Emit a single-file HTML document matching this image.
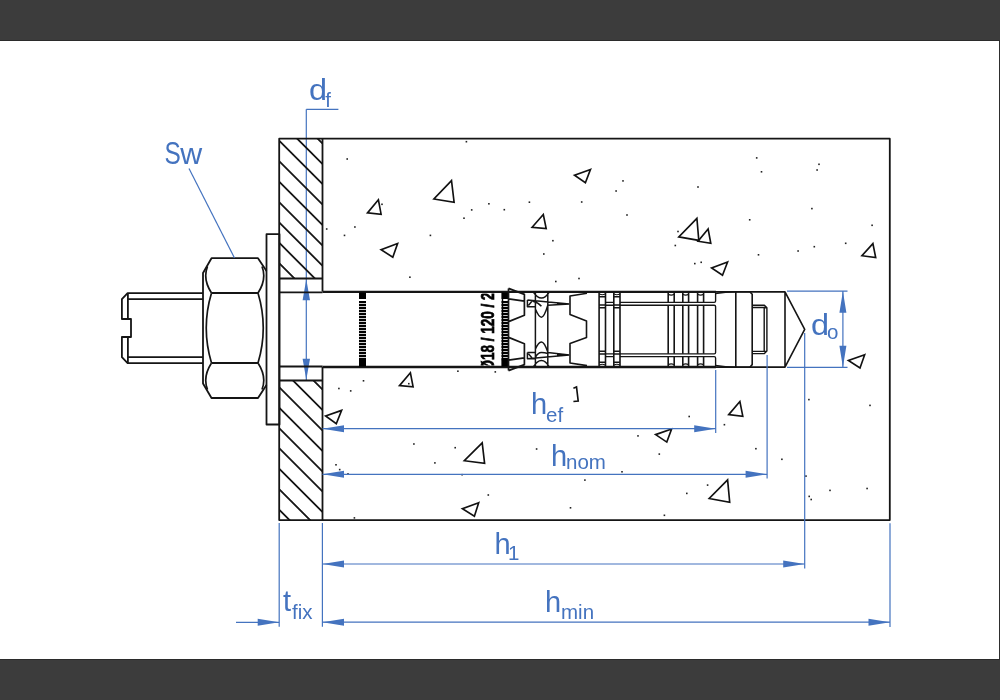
<!DOCTYPE html>
<html><head><meta charset="utf-8"><style>
html,body{margin:0;padding:0;width:1000px;height:700px;overflow:hidden;background:#fff}
svg{display:block}
text{font-family:"Liberation Sans",sans-serif}
</style></head><body>
<svg width="1000" height="700" viewBox="0 0 1000 700">
<defs>
<clipPath id="cu"><rect x="279.5" y="138.5" width="43" height="140"/></clipPath>
<clipPath id="cl"><rect x="279.5" y="380.5" width="43" height="139.5"/></clipPath>
<clipPath id="cb"><rect x="470" y="293.5" width="30" height="72"/></clipPath>
</defs>
<rect x="0" y="0" width="1000" height="700" fill="#fff"/>

<rect x="0" y="0" width="1000" height="41" fill="#3c3c3c"/>
<rect x="0" y="40" width="1000" height="1" fill="#2b2b2b"/>
<rect x="0" y="659" width="1000" height="41" fill="#3c3c3c"/>
<rect x="0" y="659" width="1000" height="1" fill="#2b2b2b"/>
<rect x="999" y="41" width="1" height="618" fill="#2e2e2e"/>
<path d="M306.3,109.3 V380" fill="none" stroke="#4473bf" stroke-width="1.2"/>
<path d="M306.3,279.3 L302.6,300.3 L310,300.3 Z M306.3,379.8 L302.6,358.8 L310,358.8 Z" fill="#4473bf"/>
<g fill="none" stroke="#151515" stroke-width="1.8" stroke-linejoin="round" stroke-linecap="butt">
<path d="M279.2,138.7 H889.8 V520.1 H279.2 Z"/>
<path d="M322.5,138.7 V291.5 M322.5,367 V520.1"/>
<path d="M279.2,278.5 H322.5 M279.2,380.5 H322.5"/>
<path clip-path="url(#cu)" d="M269.5,90.5 L332.5,153.5 M269.5,111 L332.5,174 M269.5,131 L332.5,194 M269.5,151.5 L332.5,214.5 M269.5,172 L332.5,235 M269.5,192.5 L332.5,255.5 M269.5,212.7 L332.5,275.7 M269.5,233.1 L332.5,296.1 M269.5,253.5 L332.5,316.5"/>
<path clip-path="url(#cl)" d="M269.5,336.5 L332.5,399.5 M269.5,357 L332.5,420 M269.5,377.5 L332.5,440.5 M269.5,398 L332.5,461 M269.5,418.5 L332.5,481.5 M269.5,438.5 L332.5,501.5 M269.5,459 L332.5,522 M269.5,479.5 L332.5,542.5 M269.5,500 L332.5,563"/>
<rect x="266.5" y="234.2" width="13" height="190.3"/>
<path d="M266.5,271 L258,258.2 H211.5 L203,273 V383.5 L211.5,398 H258 L266.5,385"/>
<path d="M211.5,293 H258 M211.5,363 H258"/>
<path stroke-width="1.7" d="M207.5,266.5 Q202.5,279 211.5,293 M262,266.5 Q267,279 258,293 M211.5,293 Q201,328 211.5,363 M258,293 Q268.5,328 258,363 M211.5,363 Q202.5,377 207.5,389.5 M258,363 Q267,377 262,389.5"/>
<path d="M203,293.1 H127.6 L121.9,299.1 V319 H131 V337 H121.9 V357.2 L127.6,363.1 H203"/>
<path d="M127.9,299.1 H203 M127.9,357.2 H203 M127.9,293.5 V319 M127.9,337 V363"/>
<path stroke-width="1.8" d="M279.2,292.4 H322.5 M279.2,366.5 H322.5"/>
<path stroke-width="1.7" d="M716,291.8 H785 M716,367.1 H785"/>
<path stroke-width="2.3" d="M322.5,291.9 H716 M322.5,367 H716"/>
<path stroke-width="1.6" d="M785,291.8 L804.7,329.4 L785,367.1 Z"/>
<path stroke-width="1.6" d="M735.8,291.7 V367.2 M735.8,291.7 H749.8 L752.2,294.3 V364.6 L749.8,367.2 H735.8"/>
<path stroke-width="1.4" d="M752.2,305.3 H764.4 L766.9,307.8 V351.1 L764.4,353.6 H752.2 M752.2,307.5 H764.2 V351.4 H752.2 M764.2,307.5 L766.9,307.8 M764.2,351.4 L766.9,351.1"/>
</g>
<rect x="359" y="292.5" width="7" height="6.5" fill="#000"/><rect x="359" y="359.5" width="7" height="7" fill="#000"/><rect x="359" y="301" width="7" height="2.2" fill="#000"/><rect x="359" y="304" width="7" height="2.2" fill="#000"/><rect x="359" y="307" width="7" height="2.2" fill="#000"/><rect x="359" y="310" width="7" height="2.2" fill="#000"/><rect x="359" y="313" width="7" height="2.2" fill="#000"/><rect x="359" y="316" width="7" height="2.2" fill="#000"/><rect x="359" y="319" width="7" height="2.2" fill="#000"/><rect x="359" y="322" width="7" height="2.2" fill="#000"/><rect x="359" y="325" width="7" height="2.2" fill="#000"/><rect x="359" y="328" width="7" height="2.2" fill="#000"/><rect x="359" y="331" width="7" height="2.2" fill="#000"/><rect x="359" y="334" width="7" height="2.2" fill="#000"/><rect x="359" y="337" width="7" height="2.2" fill="#000"/><rect x="359" y="340" width="7" height="2.2" fill="#000"/><rect x="359" y="343" width="7" height="2.2" fill="#000"/><rect x="359" y="346" width="7" height="2.2" fill="#000"/><rect x="359" y="349" width="7" height="2.2" fill="#000"/><rect x="359" y="352" width="7" height="2.2" fill="#000"/><rect x="359" y="355" width="7" height="2.2" fill="#000"/><rect x="359" y="358" width="7" height="2.2" fill="#000"/>
<rect x="501.5" y="292.5" width="6.5" height="6.5" fill="#000"/><rect x="501.5" y="359.5" width="6.5" height="7" fill="#000"/><rect x="501.5" y="301" width="6.5" height="2.2" fill="#000"/><rect x="501.5" y="304" width="6.5" height="2.2" fill="#000"/><rect x="501.5" y="307" width="6.5" height="2.2" fill="#000"/><rect x="501.5" y="310" width="6.5" height="2.2" fill="#000"/><rect x="501.5" y="313" width="6.5" height="2.2" fill="#000"/><rect x="501.5" y="316" width="6.5" height="2.2" fill="#000"/><rect x="501.5" y="319" width="6.5" height="2.2" fill="#000"/><rect x="501.5" y="322" width="6.5" height="2.2" fill="#000"/><rect x="501.5" y="325" width="6.5" height="2.2" fill="#000"/><rect x="501.5" y="328" width="6.5" height="2.2" fill="#000"/><rect x="501.5" y="331" width="6.5" height="2.2" fill="#000"/><rect x="501.5" y="334" width="6.5" height="2.2" fill="#000"/><rect x="501.5" y="337" width="6.5" height="2.2" fill="#000"/><rect x="501.5" y="340" width="6.5" height="2.2" fill="#000"/><rect x="501.5" y="343" width="6.5" height="2.2" fill="#000"/><rect x="501.5" y="346" width="6.5" height="2.2" fill="#000"/><rect x="501.5" y="349" width="6.5" height="2.2" fill="#000"/><rect x="501.5" y="352" width="6.5" height="2.2" fill="#000"/><rect x="501.5" y="355" width="6.5" height="2.2" fill="#000"/><rect x="501.5" y="358" width="6.5" height="2.2" fill="#000"/>
<rect x="501.8" y="292.5" width="1.4" height="74" fill="#000"/>
<g clip-path="url(#cb)" style="filter:grayscale(1)"><text transform="translate(494.3,370.5) rotate(-90) scale(0.75,1)" font-size="18" font-weight="bold" fill="#000" stroke="#000" stroke-width="0.7">Ø18 / 120 / 2</text></g>
<g fill="none" stroke="#151515" stroke-width="1.7" stroke-linejoin="round">
<path d="M508.5,288.4 V370.6 M508.5,288.4 L524.4,294.4 V315.2 L508.6,321.6 M508.6,337.4 L524.4,343.8 V364.6 L508.5,370.6 M508.6,298.8 L524.4,301.2 M508.6,360.2 L524.4,357.8"/>
<path stroke-width="1.5" d="M535.4,292.5 V366.5 M547.8,292.5 V366.5 M533.5,292.3 C536,296 538.5,298 541.4,298 C544.3,298 546.8,296 549,292.3 M535.4,309 C537.5,314 539.3,317.2 541.4,317.2 C543.5,317.2 545.5,313 547.8,305.3 M533,301.2 C536.5,302 539.5,304 541.4,306.3 M527.4,300 V306.7 H535.4 M527.4,300 L569.3,303.9 M528.4,305.5 L532.5,300.5 M547.8,305.3 L569.3,303.9 M533.5,366.7 C536,362.5 538.5,360.5 541.4,360.5 C544.3,360.5 546.8,362.5 549,366.7 M535.4,349.3 C537.5,344 539.3,341.9 541.4,341.9 C543.5,341.9 545.5,345 547.8,352.1 M535.4,357.5 C537,354 539,352.4 541.4,352.4 C543.5,352.4 546,352.8 547.8,353.5 M527.4,352.4 V358.7 H535.4 M527.4,352.4 H535.4 M527.4,358.7 L569.3,354.9 M528.4,353.8 L531.9,357.7 M547.8,352.5 L569.3,354.9"/>
</g>
<path d="M557,302.8 L569.5,303.9 L557,304.6 Z M557,356.2 L569.5,354.9 L557,353.6 Z" fill="#111"/>
<g fill="none" stroke="#151515" stroke-width="1.6" stroke-linejoin="round">
<path d="M587,293.3 L570,296 V314.5 L586.5,321 V337.5 L570,343.5 V363 L587,365.6"/>
<path d="M599.1,293 V366 M605.5,293 V366 M599.1,296.8 H605.5 M599.1,305 H605.5 M599.1,307.8 H605.5 M599.1,351.2 H605.5 M599.1,354 H605.5 M599.1,362.2 H605.5"/>
<path d="M613.8,293 V366 M620,293 V366 M613.8,296.8 H620 M613.8,305 H620 M613.8,307.8 H620 M613.8,351.2 H620 M613.8,354 H620 M613.8,362.2 H620"/>
<path stroke-width="1.2" d="M599.4,294 Q602.3,295.5 605.3,294 M613.8,294 Q616.9,295.5 620,294 M599.4,365 Q602.3,363.5 605.3,365 M613.8,365 Q616.9,363.5 620,365"/>
<path d="M668.2,293 V302.4 M674.2,293 V302.4 M668.2,305.2 V353.8 M674.2,305.2 V353.8 M668.2,356.6 V366 M674.2,356.6 V366"/>
<path stroke-width="1.2" d="M668.2,294.3 Q671.2,296 674.2,294.3 M668.2,364.7 Q671.2,363 674.2,364.7"/>
<path d="M682.8,293 V302.4 M688.6,293 V302.4 M682.8,305.2 V353.8 M688.6,305.2 V353.8 M682.8,356.6 V366 M688.6,356.6 V366"/>
<path stroke-width="1.2" d="M682.8,294.3 Q685.7,296 688.6,294.3 M682.8,364.7 Q685.7,363 688.6,364.7"/>
<path d="M697.6,293 V302.4 M703.6,293 V302.4 M697.6,305.2 V353.8 M703.6,305.2 V353.8 M697.6,356.6 V366 M703.6,356.6 V366"/>
<path stroke-width="1.2" d="M697.6,294.3 Q700.6,296 703.6,294.3 M697.6,364.7 Q700.6,363 703.6,364.7"/>
<path stroke-width="1.35" d="M605.3,302.4 H613.8 M620,302.4 H714.2 Q715.6,302.4 715.6,301 V293 M605.3,305.2 H613.8 M620,305.2 H714.2 Q715.6,305.2 715.6,306.6 V352.4 Q715.6,353.8 714.2,353.8 H620 M613.8,353.8 H605.3 M605.3,356.6 H613.8 M620,356.6 H714.2 Q715.6,356.6 715.6,358 V366"/>
<path d="M715.6,293.5 Q725,292 736.3,291.8 M715.6,365.5 Q725,367 736.3,367.2"/>
</g>
<g fill="none" stroke="#111" stroke-width="1.65" stroke-linejoin="miter" stroke-miterlimit="3">
<path d="M451.5,180.6 L433.9,199 L454.1,202.2 Z"/>
<path d="M378.4,199.8 L367.5,212.9 L381.1,214.2 Z"/>
<path d="M397.6,243.6 L381.1,249.7 L392.8,257.2 Z"/>
<path d="M590.5,169.4 L574.5,175.3 L585.4,182.7 Z"/>
<path d="M543.3,214.5 L532.1,227.3 L546.2,228.6 Z"/>
<path d="M696.9,218.3 L678.8,236.9 L698.8,240.4 Z"/>
<path d="M708.1,228.9 L698,241.2 L710.8,243.3 Z"/>
<path d="M727.6,262 L711.6,267.9 L722.5,275.3 Z"/>
<path d="M872.9,243.6 L861.9,255.7 L875.7,257.6 Z"/>
<path d="M410.4,372.8 L399.5,385.6 L413.1,386.9 Z"/>
<path d="M341.6,410.4 L325.6,416 L336.3,423.7 Z"/>
<path d="M482.2,442.9 L464.3,460.7 L484.6,463.4 Z"/>
<path d="M478.7,502.7 L462.4,508.8 L474.4,516.3 Z"/>
<path d="M671.6,429 L655.6,434.6 L666.8,442.1 Z"/>
<path d="M739.9,401.5 L728.7,414.6 L742.8,416.2 Z"/>
<path d="M727.6,479.8 L709.2,498.5 L729.7,502.2 Z"/>
<path d="M864.7,354.7 L848.4,360.4 L860,368 Z"/>
<path d="M573.4,388.2 L576.5,387 L578.2,401 L573.4,401.5"/>
</g>
<g fill="#222">
<rect x="346.4" y="158.2" width="1.6" height="1.6"/>
<rect x="465.6" y="140.9" width="1.6" height="1.6"/>
<rect x="381.2" y="203.5" width="1.6" height="1.6"/>
<rect x="470.9" y="209.1" width="1.6" height="1.6"/>
<rect x="463.2" y="217.4" width="1.6" height="1.6"/>
<rect x="354.1" y="226.2" width="1.6" height="1.6"/>
<rect x="325.9" y="228.2" width="1.6" height="1.6"/>
<rect x="343.7" y="234.6" width="1.6" height="1.6"/>
<rect x="429.6" y="234.6" width="1.6" height="1.6"/>
<rect x="409.1" y="276.4" width="1.6" height="1.6"/>
<rect x="488.1" y="203" width="1.6" height="1.6"/>
<rect x="503.5" y="208.9" width="1.6" height="1.6"/>
<rect x="528.6" y="201.4" width="1.6" height="1.6"/>
<rect x="580.9" y="201.2" width="1.6" height="1.6"/>
<rect x="622.2" y="180.1" width="1.6" height="1.6"/>
<rect x="615.3" y="190.2" width="1.6" height="1.6"/>
<rect x="626.2" y="214.2" width="1.6" height="1.6"/>
<rect x="552.1" y="239.9" width="1.6" height="1.6"/>
<rect x="543" y="253.2" width="1.6" height="1.6"/>
<rect x="555" y="280.7" width="1.6" height="1.6"/>
<rect x="578.2" y="277.7" width="1.6" height="1.6"/>
<rect x="755.9" y="157.1" width="1.6" height="1.6"/>
<rect x="760.7" y="171" width="1.6" height="1.6"/>
<rect x="697.2" y="186.2" width="1.6" height="1.6"/>
<rect x="748.9" y="219" width="1.6" height="1.6"/>
<rect x="677.2" y="230.7" width="1.6" height="1.6"/>
<rect x="674.5" y="244.7" width="1.6" height="1.6"/>
<rect x="757.7" y="254" width="1.6" height="1.6"/>
<rect x="694" y="262.8" width="1.6" height="1.6"/>
<rect x="700.4" y="261.5" width="1.6" height="1.6"/>
<rect x="818.2" y="163.5" width="1.6" height="1.6"/>
<rect x="816.3" y="169.2" width="1.6" height="1.6"/>
<rect x="811.1" y="207.8" width="1.6" height="1.6"/>
<rect x="871.3" y="224.5" width="1.6" height="1.6"/>
<rect x="797.3" y="250.2" width="1.6" height="1.6"/>
<rect x="813.5" y="245.9" width="1.6" height="1.6"/>
<rect x="844.9" y="242.5" width="1.6" height="1.6"/>
<rect x="362.7" y="380" width="1.6" height="1.6"/>
<rect x="338.1" y="387.7" width="1.6" height="1.6"/>
<rect x="349.9" y="390.1" width="1.6" height="1.6"/>
<rect x="408" y="382.9" width="1.6" height="1.6"/>
<rect x="457.1" y="370.4" width="1.6" height="1.6"/>
<rect x="413.1" y="443.2" width="1.6" height="1.6"/>
<rect x="454.4" y="446.9" width="1.6" height="1.6"/>
<rect x="335.2" y="464" width="1.6" height="1.6"/>
<rect x="338.9" y="468.8" width="1.6" height="1.6"/>
<rect x="347.2" y="473.1" width="1.6" height="1.6"/>
<rect x="434.1" y="462.1" width="1.6" height="1.6"/>
<rect x="461.3" y="473.9" width="1.6" height="1.6"/>
<rect x="353.6" y="517.1" width="1.6" height="1.6"/>
<rect x="494.5" y="371.1" width="1.6" height="1.6"/>
<rect x="535.8" y="448.2" width="1.6" height="1.6"/>
<rect x="487.5" y="494.2" width="1.6" height="1.6"/>
<rect x="584.1" y="479.3" width="1.6" height="1.6"/>
<rect x="569.7" y="507" width="1.6" height="1.6"/>
<rect x="688.4" y="415.7" width="1.6" height="1.6"/>
<rect x="637.2" y="435.1" width="1.6" height="1.6"/>
<rect x="658.5" y="453.3" width="1.6" height="1.6"/>
<rect x="723.6" y="423.9" width="1.6" height="1.6"/>
<rect x="755.1" y="447.9" width="1.6" height="1.6"/>
<rect x="621.2" y="471" width="1.6" height="1.6"/>
<rect x="706.8" y="484.3" width="1.6" height="1.6"/>
<rect x="686" y="492.6" width="1.6" height="1.6"/>
<rect x="663.6" y="514.5" width="1.6" height="1.6"/>
<rect x="808.1" y="398.8" width="1.6" height="1.6"/>
<rect x="869.2" y="404.6" width="1.6" height="1.6"/>
<rect x="781.1" y="458.5" width="1.6" height="1.6"/>
<rect x="805.2" y="475.3" width="1.6" height="1.6"/>
<rect x="808.4" y="495.6" width="1.6" height="1.6"/>
<rect x="810.4" y="498.7" width="1.6" height="1.6"/>
<rect x="829.2" y="489.6" width="1.6" height="1.6"/>
<rect x="866.3" y="487.7" width="1.6" height="1.6"/>
</g>
<g fill="none" stroke="#4473bf" stroke-width="1.2">
<path d="M306.3,109.3 H338.4"/>
<path d="M189,168.5 L234.5,258"/>
<path d="M787,291.2 H847.5 M787,367.3 H847.5 M842.9,291.2 V367.3"/>
<path d="M715.7,370 V432.9 M767.1,355 V478.5 M804.7,333 V568.6 M890,523.3 V626.9 M279.2,523 V626.8 M322.4,523 V626.8"/>
<path d="M322.5,428.7 H715.7 M322.5,474.3 H767.1 M322.5,564 H804.7 M322.5,622.2 H890 M236,622.3 H279.2"/>
</g>
<g fill="#4473bf">
<path d="M842.9,291.2 L839.4,312.7 L846.4,312.7 Z M842.9,367.3 L839.4,345.8 L846.4,345.8 Z M322.5,428.7 L344,425.2 L344,432.2 Z M715.7,428.7 L694.2,425.2 L694.2,432.2 Z M322.5,474.3 L344,470.8 L344,477.8 Z M767.1,474.3 L745.6,470.8 L745.6,477.8 Z M322.5,564 L344,560.5 L344,567.5 Z M804.7,564 L783.2,560.5 L783.2,567.5 Z M322.5,622.2 L344,618.7 L344,625.7 Z M890,622.2 L868.5,618.7 L868.5,625.7 Z M279.2,622.3 L257.7,618.8 L257.7,625.8 Z"/>
</g><g fill="#4473bf" style="filter:saturate(1)">
<text transform="translate(164.5,163.5) scale(0.8,1)" font-size="30.5">S</text><text transform="translate(180.3,163.5) scale(1.03,1)" font-size="29.5">w</text>
<text transform="translate(308.9,99.6) scale(1.12,1)" font-size="29">d</text><text x="325.3" y="106.6" font-size="20.5">f</text>
<text x="531" y="414.3" font-size="29">h</text><text x="546" y="421.7" font-size="20.5">ef</text>
<text x="551" y="465.8" font-size="29">h</text><text x="566" y="469" font-size="20.5">nom</text>
<text x="494.5" y="553.9" font-size="29">h</text><text x="508" y="560" font-size="20.5">1</text>
<text x="545" y="612.4" font-size="29">h</text><text x="561" y="619.2" font-size="20.5">min</text>
<text x="283" y="611.4" font-size="29">t</text><text x="292" y="618.5" font-size="20.5">fix</text>
<text transform="translate(811,335) scale(1.12,1)" font-size="29">d</text><text x="827" y="338.6" font-size="20.5">o</text>
</g>
</svg></body></html>
